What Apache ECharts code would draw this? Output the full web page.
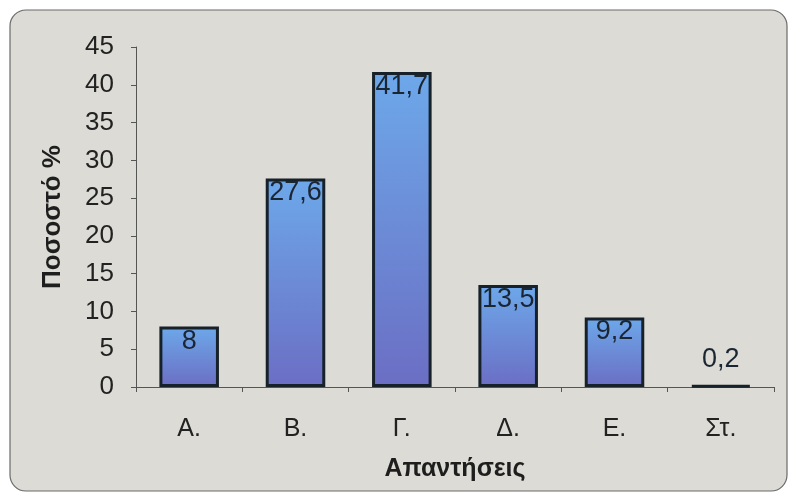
<!DOCTYPE html>
<html>
<head>
<meta charset="utf-8">
<script src="https://cdn.jsdelivr.net/npm/echarts@6/dist/echarts.min.js"></script>
<style>
  html, body { margin: 0; padding: 0; background: #ffffff; }
  #chart { width: 791px; height: 493px; }
</style>
</head>
<body>
<div id="chart"></div>
<script>
// Responses and their share (%)
const categories = ['Α.', 'Β.', 'Γ.', 'Δ.', 'Ε.', 'Στ.'];
const values = [8, 27.6, 41.7, 13.5, 9.2, 0.2];
const yTicks = { min: 0, max: 45, interval: 5 };

const chart = echarts.init(document.getElementById('chart'), null, { renderer: 'canvas' });

const barFill = new echarts.graphic.LinearGradient(0, 0, 0, 1, [
  { offset: 0, color: '#6da8ea' },
  { offset: 1, color: '#6b6ec4' }
]);

const fmt = p => String(p.value).replace('.', ',');
const FONT = 'Liberation Sans';

chart.setOption({
  backgroundColor: '#ffffff',
  animation: false,
  graphic: [{
    type: 'rect',
    z: -10,
    shape: { x: 10, y: 10, width: 777, height: 481, r: 16 },
    style: { fill: '#dcdbd5', stroke: '#6a6a6a', lineWidth: 1.2 }
  }],
  grid: { left: 136, right: 17, top: 47, bottom: 106 },
  xAxis: {
    type: 'category',
    data: categories,
    name: 'Απαντήσεις',
    nameLocation: 'middle',
    nameGap: 70,
    nameTextStyle: { fontFamily: FONT, fontWeight: 'bold', fontSize: 25, color: '#1e1e1e' },
    axisLine: { lineStyle: { color: '#555', width: 1 } },
    axisTick: { show: true, length: 5, lineStyle: { color: '#555' } },
    axisLabel: { margin: 30, fontFamily: FONT, fontSize: 25, color: '#222' }
  },
  yAxis: {
    type: 'value',
    min: yTicks.min,
    max: yTicks.max,
    interval: yTicks.interval,
    name: 'Ποσοστό %',
    nameLocation: 'middle',
    nameGap: 70,
    nameTextStyle: { fontFamily: FONT, fontWeight: 'bold', fontSize: 26, color: '#1e1e1e' },
    axisLine: { show: true, lineStyle: { color: '#555', width: 1 } },
    axisTick: { show: true, length: 5, lineStyle: { color: '#555' } },
    splitLine: { show: false },
    axisLabel: { margin: 22, fontFamily: FONT, fontSize: 26, color: '#222' }
  },
  series: [{
    type: 'bar',
    barWidth: '56%',
    data: values.map(v => ({
      value: v,
      label: {
        show: true,
        position: v < 3 ? 'top' : 'insideTop',
        distance: v < 3 ? 12 : 1
      }
    })),
    itemStyle: { color: barFill, borderColor: '#16212a', borderWidth: 3 },
    label: {
      formatter: fmt,
      fontFamily: FONT,
      fontSize: 27,
      color: '#1b2633'
    }
  }]
});
</script>
</body>
</html>
